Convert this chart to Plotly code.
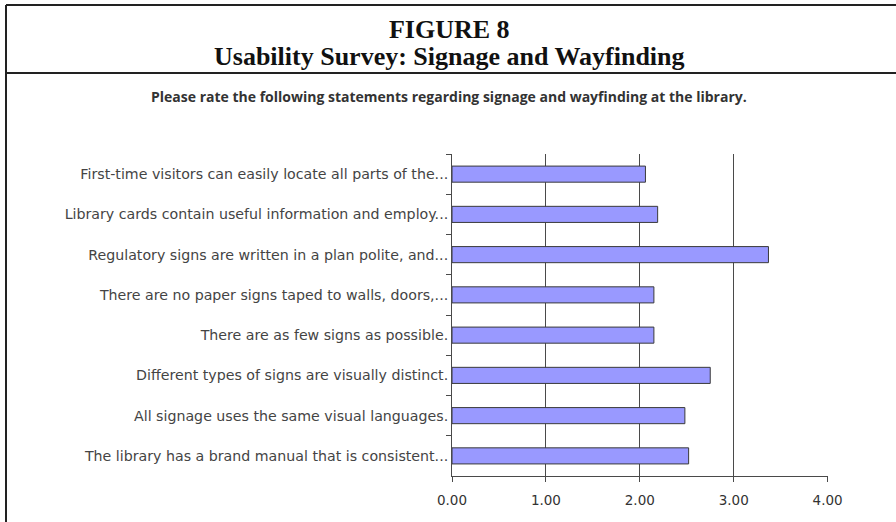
import plotly.graph_objects as go

categories = [
    "First-time visitors can easily locate all parts of the...",
    "Library cards contain useful information and employ...",
    "Regulatory signs are written in a plan polite, and...",
    "There are no paper signs taped to walls, doors,...",
    "There are as few signs as possible.",
    "Different types of signs are visually distinct.",
    "All signage uses the same visual languages.",
    "The library has a brand manual that is consistent...",
]
values = [2.06, 2.19, 3.37, 2.15, 2.15, 2.75, 2.48, 2.52]
x_ticks = [0, 1, 2, 3, 4]
x_tick_labels = ["0.00", "1.00", "2.00", "3.00", "4.00"]

W, H = 896, 522
L, R, T, B = 452, 828, 154, 476


def px(x):
    return (x - L) / (R - L)


def py(y):
    return (B - y) / (B - T)


fig = go.Figure(go.Bar(
    y=categories,
    x=values,
    orientation="h",
    marker=dict(color="#9999FF", line=dict(color="#3a3a3a", width=1)),
))

label_font = dict(family="DejaVu Sans", size=14.2, color="#444444")

title_text = ("<span style='font-size:26px'><b>FIGURE 8</b></span><br>"
              "<span style='font-size:26px'><b>Usability Survey: Signage and Wayfinding</b></span>")

fig.update_layout(
    width=W, height=H,
    margin=dict(l=L, r=W - R, t=T, b=H - B, pad=0),
    paper_bgcolor="white",
    plot_bgcolor="white",
    bargap=0.6,
    showlegend=False,
    xaxis=dict(
        range=[0, 4.004],
        tickvals=x_ticks,
        ticktext=x_tick_labels,
        showgrid=True,
        gridcolor="#4a4a4a",
        gridwidth=1,
        showline=True,
        linecolor="#4a4a4a",
        linewidth=1,
        ticks="outside",
        ticklen=5,
        tickcolor="#4a4a4a",
        tickfont=dict(family="DejaVu Sans", size=13.5, color="#333333"),
        ticklabelstandoff=7,
        zeroline=False,
        fixedrange=True,
    ),
    yaxis=dict(
        autorange="reversed",
        showline=True,
        linecolor="#4a4a4a",
        linewidth=1,
        ticks="outside",
        tickson="boundaries",
        ticklen=5,
        tickcolor="#4a4a4a",
        showgrid=False,
        tickfont=label_font,
        ticklabelstandoff=0,
        fixedrange=True,
    ),
    shapes=[
        dict(type="line", xref="paper", yref="paper", x0=px(6), x1=px(W + 5), y0=py(5), y1=py(5),
             line=dict(color="#222222", width=2)),
        dict(type="line", xref="paper", yref="paper", x0=px(6), x1=px(W + 5), y0=py(73), y1=py(73),
             line=dict(color="#222222", width=2)),
        dict(type="line", xref="paper", yref="paper", x0=px(6), x1=px(6), y0=py(5), y1=py(H + 5),
             line=dict(color="#222222", width=2)),
    ],
    annotations=[
        dict(text=title_text, xref="paper", yref="paper", x=px(449), y=py(43),
             showarrow=False, xanchor="center", yanchor="middle",
             font=dict(family="Liberation Serif", size=21, color="#111111")),
        dict(text="<b>Please rate the following statements regarding signage and wayfinding at the library.</b>",
             xref="paper", yref="paper", x=px(449), y=py(97), showarrow=False,
             xanchor="center", yanchor="middle",
             font=dict(family="Open Sans", size=14, color="#333333")),
    ],
)

fig.write_html("out.html", config={"displayModeBar": False},
               post_script="document.body.style.margin='0';")
